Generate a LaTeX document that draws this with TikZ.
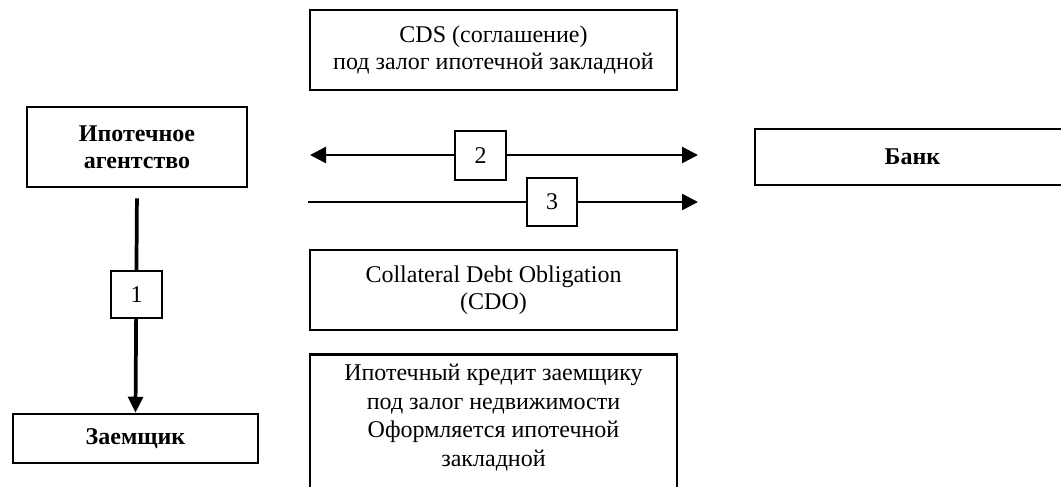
\documentclass[tikz,border=0pt]{standalone}
\usepackage{fontspec}
\setmainfont{Liberation Serif}
\usetikzlibrary{arrows.meta}
\begin{document}
\begin{tikzpicture}[x=0.75pt,y=-0.75pt,
  box/.style={draw,line width=1.9pt,inner sep=0pt,align=center,
    font=\fontsize{18pt}{20pt}\selectfont},
  numbox/.style={draw,fill=white,line width=1.9pt,inner sep=0pt,
    font=\fontsize{18pt}{20pt}\selectfont},
  bold/.style={font=\fontsize{18pt}{20pt}\selectfont\bfseries},
  tip/.style={Triangle[length=12pt,width=12pt]},
  harrow/.style={line width=1.8pt,-{Triangle[length=12pt,width=12pt]}},
  varrow/.style={line width=2.8pt,-{Triangle[length=12pt,width=11pt]}}]
\useasboundingbox (0,0) rectangle (1061,486);
\clip (0,0) rectangle (1061,486);
\node[box,minimum width=275.25pt,minimum height=60pt] (cds) at (493.5,50)
  {CDS (соглашение)\\под залог ипотечной закладной};
\node[box,bold,minimum width=165pt,minimum height=60pt] (agency) at (137,147)
  {Ипотечное\\агентство};
\node[box,bold,minimum width=236.25pt,minimum height=42pt] (bank) at (912.5,157)
  {Банк};
\node[box,minimum width=275.25pt,minimum height=60pt] (cdo) at (493.5,290)
  {Collateral Debt Obligation\\(CDO)};
\node[box,minimum width=275.25pt,minimum height=110.25pt,anchor=north] (credit) at (493.5,353) {};
\node[align=center,anchor=north,inner sep=0pt,
  font=\fontsize{18pt}{21.4pt}\selectfont] (credittext) at (493.5,364)
  {Ипотечный кредит заемщику\\под залог недвижимости\\Оформляется ипотечной\\закладной};
\node[box,bold,minimum width=183.75pt,minimum height=36.75pt] (borrower) at (135.5,438.5)
  {Заемщик};
\coordinate (a2l) at (310,155);
\coordinate (a2r) at (698,155);
\coordinate (a3l) at (308,202);
\coordinate (a3r) at (698,202);
\draw[harrow,{Triangle[length=12pt,width=12pt]}-{Triangle[length=12pt,width=12pt]}] (a2l) -- (a2r);
\draw[harrow] (a3l) -- (a3r);
\draw[varrow,shorten <=7.5pt] (agency.south) -- (borrower.north);
\node[numbox,minimum width=38.25pt,minimum height=36.75pt] (n2) at (480.5,155.5) {2};
\node[numbox,minimum width=37.5pt,minimum height=36pt] (n3) at (552,202) {3};
\node[numbox,minimum width=38.25pt,minimum height=35.25pt] (n1) at (136.5,294.5) {1};
\end{tikzpicture}
\end{document}
